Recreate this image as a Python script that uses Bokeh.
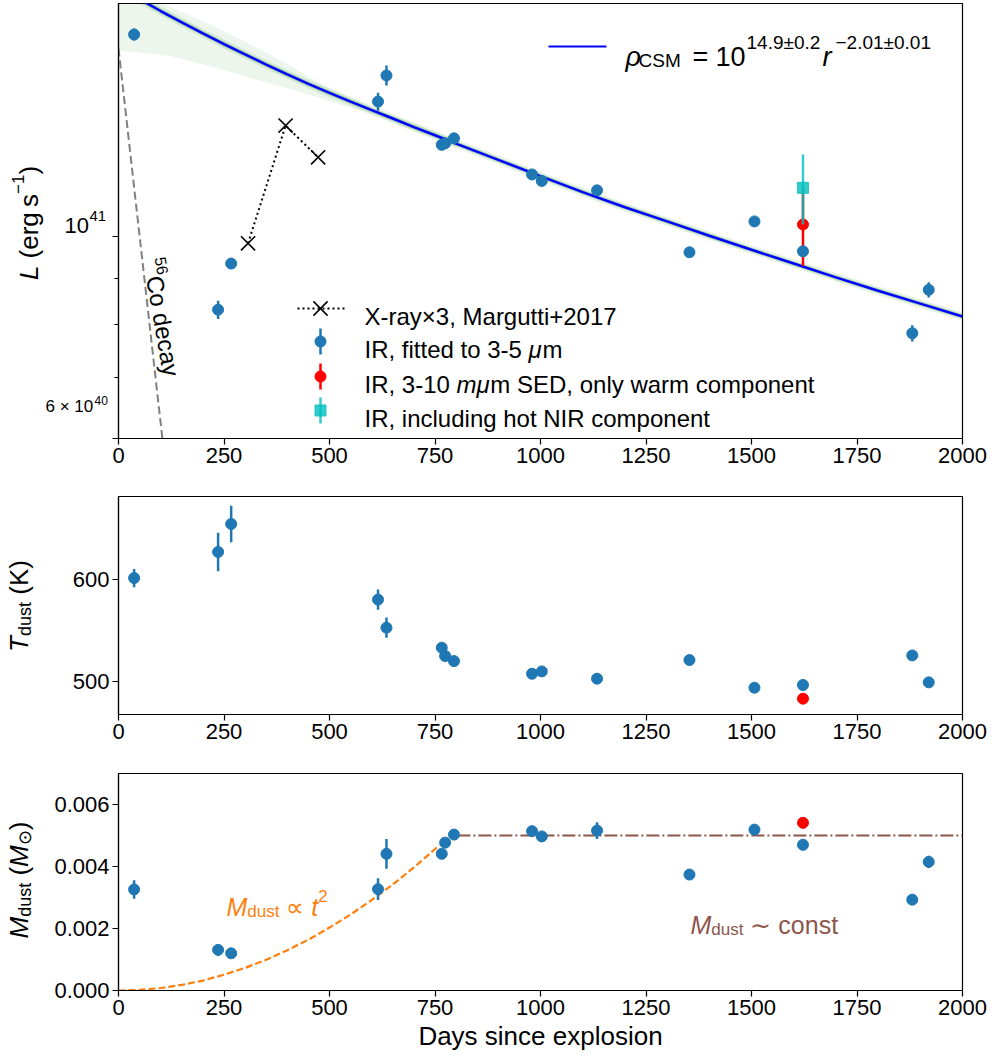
import math

from bokeh.embed import file_html
from bokeh.layouts import column, row
from bokeh.models import (ColumnDataSource, CustomJSTickFormatter, Div, FixedTicker,
                          Label, Range1d)
from bokeh.plotting import figure
from bokeh.resources import INLINE

FONT = "Liberation Sans"
BLUE = "#1f77b4"
RED = "#ff0000"
CYAN = "#00bfbf"
ORANGE = "#ff7f0e"
BROWN = "#8c564b"

# ---------------------------------------------------------------- data
# IR epochs (days since explosion)
ir_days = [37, 236, 267, 615, 635, 766, 774, 795, 980, 1003, 1134, 1353, 1507, 1622, 1881, 1920]
# luminosity fitted to 3-5 micron (erg/s)
ir_lum = [1.667e41, 0.831e41, 0.934e41, 1.407e41, 1.503e41, 1.261e41, 1.266e41, 1.282e41,
          1.170e41, 1.151e41, 1.124e41, 0.961e41, 1.039e41, 0.9635e41, 0.783e41, 0.874e41]
ir_lum_err = [0.025e41, 0.019e41, 0.009e41, 0.032e41, 0.038e41, 0.006e41, 0.006e41, 0.006e41,
              0.006e41, 0.006e41, 0.015e41, 0.005e41, 0.005e41, 0.005e41, 0.016e41, 0.017e41]
# dust temperature (K)
ir_temp = [601.6, 627.3, 654.9, 580.3, 552.6, 532.9, 524.7, 519.7, 507.2, 509.5, 502.3,
           520.7, 493.4, 496.1, 525.3, 498.7]
ir_temp_err = [9, 19, 18, 10, 10, 3, 3, 3, 2, 2, 3, 2, 2, 2, 3, 2]
# dust mass (solar masses)
ir_mass = [0.00326, 0.00131, 0.00120, 0.00327, 0.00441, 0.00441, 0.00477, 0.00503, 0.00514,
           0.00497, 0.00516, 0.00374, 0.00519, 0.00470, 0.00293, 0.00415]
ir_mass_err = [0.00030, 0.00019, 0.00010, 0.00035, 0.00048, 0.00012, 0.00010, 0.00010, 0.00015,
               0.00010, 0.00027, 0.00010, 0.00012, 0.00010, 0.00016, 0.00020]

# 3-10 micron SED, warm component only
sed_days = [1622]
sed_lum = [1.031e41]
sed_lum_err = [0.102e41]
sed_temp = [482.6]
sed_temp_err = [4]
sed_mass = [0.00541]
sed_mass_err = [0.00010]

# including the hot NIR component
hot_days = [1622]
hot_lum = [1.131e41]
hot_lum_err = [0.100e41]

# X-ray luminosity x3 (Margutti+2017)
xray_days = [307, 396, 473]
xray_lum = [0.983e41, 1.324e41, 1.222e41]

# CSM-interaction model: best fit and the spread of the sampled fits
fit_days = [40, 68, 100, 150, 200, 250, 300, 350, 400, 450, 500, 550, 600, 650, 700, 750, 800,
            900, 1000, 1100, 1200, 1300, 1400, 1500, 1600, 1700, 1800, 1900, 2000]
fit_lum = [1.835e41, 1.803e41, 1.769e41, 1.719e41, 1.672e41, 1.627e41, 1.585e41, 1.545e41,
           1.507e41, 1.471e41, 1.438e41, 1.407e41, 1.377e41, 1.348e41, 1.319e41, 1.292e41,
           1.265e41, 1.214e41, 1.165e41, 1.119e41, 1.077e41, 1.039e41, 1.002e41, 0.967e41,
           0.934e41, 0.902e41, 0.872e41, 0.844e41, 0.817e41]
fan_days = [0, 118, 237, 316, 395, 474, 600, 800]
fan_low = [1.601e41, 1.581e41, 1.530e41, 1.491e41, 1.458e41, 1.421e41, 1.362e41, 1.255e41]
fan_high = [1.911e41, 1.794e41, 1.693e41, 1.622e41, 1.553e41, 1.476e41, 1.386e41, 1.278e41]

# 56Co decay
co_days = [0, 104]
co_lum = [1.609e41, 6.0e40]

# dust-mass trends
growth_days = [0, 50, 100, 150, 200, 250, 300, 350, 400, 450, 500, 550, 600, 650, 700, 760]
growth_mass = [0.0, 0.00002, 0.00008, 0.00018, 0.00032, 0.00051, 0.00073, 0.00099, 0.00130,
               0.00164, 0.00203, 0.00245, 0.00292, 0.00342, 0.00397, 0.00468]
const_days = [803, 2000]
const_mass = [0.005, 0.005]

x_ticks = [0, 250, 500, 750, 1000, 1250, 1500, 1750, 2000]
lum_ticks = [6e40, 1e41]
lum_minor = [7e40, 8e40, 9e40]
temp_ticks = [500, 600]
mass_ticks = [0.0, 0.002, 0.004, 0.006]

# ---------------------------------------------------------------- layout
W = 995
LEFT, RIGHT = 118, 962
P1 = dict(top=3, bottom=438, y0=6e40, y1=1.803e41, log=True)
P2 = dict(top=496, bottom=714, y0=467.0, y1=682.0, log=False)
P3 = dict(top=773, bottom=990, y0=0.0, y1=0.007, log=False)
H1, H2, H3 = 478, 276, 303
TOP1, TOP2, TOP3 = 0, H1, H1 + H2
TITLE_W = 45

ADV = {" ": 278, "(": 333, ")": 333, "+": 584, ",": 278, "-": 333, ".": 278, "=": 584,
       "×": 584, "±": 584, "−": 584, "∝": 714, "∼": 584, "⊙": 778, "μ": 576, "ρ": 480}
for ch in "0123456789":
    ADV[ch] = 556
for ch, w in zip("ABCDEFGHIJKLMNOPQRSTUVWXYZ",
                 [667, 667, 722, 722, 667, 611, 778, 722, 278, 500, 667, 556, 833, 722, 778,
                  667, 778, 722, 667, 611, 722, 667, 944, 667, 667, 611]):
    ADV[ch] = w
for ch, w in zip("abcdefghijklmnopqrstuvwxyz",
                 [556, 556, 500, 556, 556, 278, 556, 556, 222, 222, 500, 222, 833, 556, 556,
                  556, 556, 333, 500, 278, 556, 500, 722, 500, 500, 500]):
    ADV[ch] = w


def text_width(s, size):
    return sum(ADV.get(ch, 556) for ch in s) * size / 1000.0


def panel_conv(panel):
    def conv(px, py):
        x = (px - LEFT) / (RIGHT - LEFT) * 2000.0
        t = (panel["bottom"] - py) / (panel["bottom"] - panel["top"])
        if panel["log"]:
            a, b = math.log10(panel["y0"]), math.log10(panel["y1"])
            y = 10 ** (a + t * (b - a))
        else:
            y = panel["y0"] + t * (panel["y1"] - panel["y0"])
        return x, y
    return conv


def put(p, conv, px, py, txt, size, style="normal", color="black", angle=0.0):
    X, Y = conv(px, py)
    p.add_layout(Label(x=X, y=Y, text=txt, angle=angle, text_font=FONT,
                       text_font_size=f"{size}px", text_font_style=style,
                       text_color=color, text_align="left", text_baseline="alphabetic"))


def text_runs(p, conv, px, py, pieces, angle=0.0, color="black"):
    """Lay out runs of differently styled text along one baseline."""
    dx, dy = math.cos(angle), -math.sin(angle)
    ux, uy = -math.sin(angle), -math.cos(angle)
    pos = 0.0
    for piece in pieces:
        txt, size = piece[0], piece[1]
        style = piece[2] if len(piece) > 2 else "normal"
        rise = piece[3] if len(piece) > 3 else 0
        core = txt.strip(" ")
        lead = len(txt) - len(txt.lstrip(" "))
        pos += text_width(" " * lead, size)
        if core:
            put(p, conv, px + dx * pos + ux * rise, py + dy * pos + uy * rise,
                core, size, style, color, angle)
        pos += text_width(txt[lead:], size)


def make_fig(width, height, panel, border_left, border_top, border_bottom):
    p = figure(width=width, height=height, x_range=Range1d(0, 2000),
               y_range=Range1d(panel["y0"], panel["y1"]),
               y_axis_type="log" if panel["log"] else "linear",
               output_backend="svg", toolbar_location=None,
               min_border_left=border_left, min_border_right=W - RIGHT,
               min_border_top=border_top, min_border_bottom=border_bottom)
    p.grid.visible = False
    p.background_fill_color = "white"
    p.border_fill_color = "white"
    p.outline_line_color = "black"
    p.outline_line_width = 1.2
    p.outline_line_alpha = 1.0
    for ax in (p.xaxis, p.yaxis):
        ax.axis_line_color = "black"
        ax.axis_line_width = 1.2
        ax.major_tick_in = 0
        ax.major_tick_out = 6
        ax.minor_tick_in = 0
        ax.minor_tick_out = 4
        ax.major_tick_line_width = 1.2
        ax.minor_tick_line_width = 1.0
        ax.major_label_text_font = FONT
        ax.major_label_text_font_size = "22px"
        ax.major_label_text_color = "black"
        ax.major_label_standoff = 3
    p.xaxis.ticker = FixedTicker(ticks=x_ticks)
    return p


def strip_fig(width, height):
    """Blank strip that carries hand-set tick labels."""
    s = figure(width=width, height=height, x_range=Range1d(0, width),
               y_range=Range1d(height, 0), x_axis_location=None, y_axis_location=None,
               output_backend="svg", toolbar_location=None,
               min_border_left=0, min_border_right=0, min_border_top=0, min_border_bottom=0)
    s.grid.visible = False
    s.outline_line_color = None
    s.background_fill_color = "white"
    s.border_fill_color = "white"
    return s


def axis_title(height, center, html):
    """Vertical axis title, read bottom to top, laid out by the browser."""
    box = (f'<div style="position:relative;width:{TITLE_W}px;height:{height}px;">'
           f'<div style="position:absolute;left:6px;top:{center}px;'
           f'transform:translateY(-50%) rotate(180deg);writing-mode:vertical-rl;'
           f"font-family:'{FONT}';font-size:26px;line-height:26px;color:black;"
           f'white-space:nowrap;">{html}</div></div>')
    return Div(text=box, width=TITLE_W, height=height, margin=0)


def errorbars(p, xs, ys, errs, color, marker, size, alpha=1.0):
    src = ColumnDataSource(dict(x=xs, y=ys,
                                lo=[y - e for y, e in zip(ys, errs)],
                                hi=[y + e for y, e in zip(ys, errs)]))
    p.segment(x0="x", y0="lo", x1="x", y1="hi", source=src, line_color=color,
              line_width=2.5, line_alpha=alpha)
    p.scatter(x="x", y="y", source=src, marker=marker, size=size, fill_color=color,
              line_color=color, fill_alpha=alpha, line_alpha=alpha)


SUB = '<sub style="font-size:18px;">'

# ---------------------------------------------------------------- luminosity
S1W = 110 - TITLE_W
s1 = strip_fig(S1W, H1)
p1 = make_fig(W - TITLE_W - S1W, H1, P1, LEFT - TITLE_W - S1W, 3, 40)
p1.yaxis.ticker = FixedTicker(ticks=lum_ticks, minor_ticks=lum_minor)
p1.yaxis.formatter = CustomJSTickFormatter(code='return "";')
p1.yaxis.major_label_standoff = 0
c1 = panel_conv(P1)


def cs1(px, py):
    return px - TITLE_W, py - TOP1


p1.varea(x=fan_days, y1=fan_low, y2=fan_high, fill_color="green", fill_alpha=0.07)
p1.line(fit_days, fit_lum, line_color="green", line_width=8, line_alpha=0.10)
p1.line(fit_days, fit_lum, line_color="green", line_width=4.5, line_alpha=0.22)
p1.line(fit_days, fit_lum, line_color="blue", line_width=2.5)
p1.line(co_days, co_lum, line_color="gray", line_width=2, line_dash="8 4")
p1.line(xray_days, xray_lum, line_color="black", line_width=2, line_dash="2 3")
p1.scatter(xray_days, xray_lum, marker="x", size=20, line_color="black", line_width=1.6)
errorbars(p1, sed_days, sed_lum, sed_lum_err, RED, "circle", 11)
errorbars(p1, hot_days, hot_lum, hot_lum_err, CYAN, "square", 11, alpha=0.8)
errorbars(p1, ir_days, ir_lum, ir_lum_err, BLUE, "circle", 11)

# log-axis tick labels
put(s1, cs1, 64, 244, "10", 22)
put(s1, cs1, 89, 233, "41", 15)
put(s1, cs1, 45, 443, "6 × 10", 17)
put(s1, cs1, 94, 436, "40", 12)

t1 = axis_title(H1, 223,
                '<i>L</i> (erg&#8201;s<sup style="font-size:17px;">&minus;1</sup>)')

# 56Co label along the decay line
text_runs(p1, c1, 151, 258, [("56", 16, "normal", 9), ("Co decay", 24)],
          angle=math.radians(-80.3))

# model key, top right
kx0, ky = c1(548, 46)
kx1, _ = c1(606, 46)
p1.line([kx0, kx1], [ky, ky], line_color="blue", line_width=2)
put(p1, c1, 625, 56, "ρ", 27, "italic")
put(p1, c1, 638, 60, "CSM", 19)
put(p1, c1, 692, 56, "=", 27)
put(p1, c1, 715, 56, "10", 27)
put(p1, c1, 746, 42, "14.9±0.2", 19)
put(p1, c1, 822, 56, "r", 27, "italic")
put(p1, c1, 835, 42, "−2.01±0.01", 19)

# data key
rows = [308, 341, 376, 410]
mx = 320
ax0, ay = c1(297, rows[0])
ax1, _ = c1(347, rows[0])
amx, _ = c1(mx, rows[0])
p1.line([ax0, ax1], [ay, ay], line_color="black", line_width=2, line_dash="2 3")
p1.scatter([amx], [ay], marker="x", size=20, line_color="black", line_width=1.6)
for r, color, marker, alpha in [(rows[1], BLUE, "circle", 1.0), (rows[2], RED, "circle", 1.0),
                                (rows[3], CYAN, "square", 0.8)]:
    kx, kyc = c1(mx, r)
    _, klo = c1(mx, r + 13)
    _, khi = c1(mx, r - 13)
    p1.segment([kx], [klo], [kx], [khi], line_color=color, line_width=2.5, line_alpha=alpha)
    p1.scatter([kx], [kyc], marker=marker, size=11, fill_color=color, line_color=color,
               fill_alpha=alpha, line_alpha=alpha)
tx = 364
text_runs(p1, c1, tx, rows[0] + 8, [("X-ray", 24), ("×", 24), ("3, Margutti+2017", 24)])
text_runs(p1, c1, tx, rows[1] + 8, [("IR, fitted to 3-5 ", 24), ("μ", 24, "italic"), ("m", 24)])
text_runs(p1, c1, tx, rows[2] + 8, [("IR, 3-10 ", 24), ("mμ", 24, "italic"),
                                    ("m SED, only warm component", 24)])
text_runs(p1, c1, tx, rows[3] + 8, [("IR, including hot NIR component", 24)])

# ---------------------------------------------------------------- temperature
p2 = make_fig(W - TITLE_W, H2, P2, LEFT - TITLE_W, 18, 40)
p2.yaxis.ticker = FixedTicker(ticks=temp_ticks)
errorbars(p2, sed_days, sed_temp, sed_temp_err, RED, "circle", 11)
errorbars(p2, ir_days, ir_temp, ir_temp_err, BLUE, "circle", 11)
t2 = axis_title(H2, 606 - TOP2, f'<i>T</i>{SUB}dust</sub> (K)')

# ---------------------------------------------------------------- dust mass
p3 = make_fig(W - TITLE_W, H3, P3, LEFT - TITLE_W, 19, 67)
p3.yaxis.ticker = FixedTicker(ticks=mass_ticks)
p3.yaxis.formatter = CustomJSTickFormatter(code="return tick.toFixed(3);")
p3.xaxis.axis_label = "Days since explosion"
p3.xaxis.axis_label_text_font = FONT
p3.xaxis.axis_label_text_font_size = "26px"
p3.xaxis.axis_label_text_font_style = "normal"
p3.xaxis.axis_label_text_color = "black"
p3.xaxis.axis_label_standoff = 3
c3 = panel_conv(P3)

p3.line(growth_days, growth_mass, line_color=ORANGE, line_width=2.2, line_dash="7 3")
p3.line(const_days, const_mass, line_color=BROWN, line_width=2.2, line_dash="13 3 2 3")
errorbars(p3, sed_days, sed_mass, sed_mass_err, RED, "circle", 11)
errorbars(p3, ir_days, ir_mass, ir_mass_err, BLUE, "circle", 11)
t3 = axis_title(H3, 880 - TOP3, f'<i>M</i>{SUB}dust</sub> (<i>M</i>{SUB}&#8857;</sub>)')
text_runs(p3, c3, 226, 906, [("M", 25, "italic"), ("dust", 17, "normal", -5), (" ∝ ", 25),
                             ("t", 25, "italic"), ("2", 17, "normal", 11)], color=ORANGE)
text_runs(p3, c3, 690, 924, [("M", 25, "italic"), ("dust", 17, "normal", -5),
                             (" ∼ const", 25)], color=BROWN)

layout = column(row(t1, s1, p1, spacing=0), row(t2, p2, spacing=0), row(t3, p3, spacing=0),
                spacing=0)
with open("out.html", "w", encoding="utf-8") as fh:
    fh.write(file_html(layout, INLINE))
